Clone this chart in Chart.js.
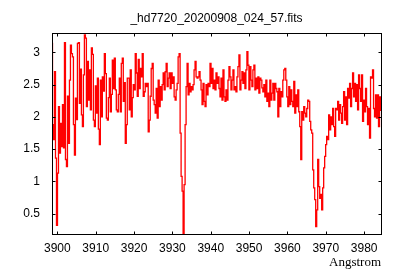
<!DOCTYPE html>
<html>
<head>
<meta charset="utf-8">
<script src="https://cdn.jsdelivr.net/npm/chart.js@4/dist/chart.umd.min.js"></script>
<style>
  html, body { margin: 0; padding: 0; background: #fff; }
  #wrap { width: 400px; height: 280px; }
</style>
</head>
<body>
<div id="wrap"><canvas id="spec" width="400" height="280"></canvas></div>
<script>
// 스펙트럼 제목 / 축 라벨
const TITLE = '_hd7720_20200908_024_57.fits';
const X_LABEL = 'Angstrom';

// 파장 격자 (FITS 헤더처럼 시작값 + 간격)
const WAVE_START = 3898.6;
const WAVE_STEP = 0.26;
const X_MIN = 3898.6, X_MAX = 3984.4;
const Y_MIN = 0.186, Y_MAX = 3.30;
const X_TICK_STEP = 10;
const Y_TICK_STEP = 0.5;

// 플럭스 값
const flux = [
  3.14,1.88,1.65,2.70,1.36,0.32,1.13,2.16,1.44,1.90,
  1.54,2.19,1.52,3.15,1.34,1.23,2.32,1.59,2.57,3.11,
  2.98,2.93,1.88,1.41,2.29,1.96,3.14,3.15,2.21,2.74,
  2.03,1.85,2.65,3.27,3.22,2.16,2.86,2.26,2.73,2.11,
  3.07,2.97,1.95,1.85,2.48,2.06,2.60,1.81,1.57,2.57,
  2.00,2.62,2.40,2.98,2.67,1.98,1.95,2.30,2.60,2.08,
  2.35,2.88,2.44,2.91,2.42,2.11,2.08,2.35,2.60,2.08,
  2.83,2.91,2.24,2.53,1.59,1.88,2.60,2.60,2.11,2.73,
  2.00,2.30,2.50,2.42,2.98,2.68,2.32,2.89,2.44,2.75,
  2.62,2.98,2.32,2.39,2.52,2.47,2.52,1.77,1.95,2.32,
  2.75,2.83,2.26,2.19,2.06,2.44,1.98,2.57,2.16,2.47,
  2.26,2.50,2.68,2.42,2.70,2.83,2.47,2.60,2.68,2.44,
  2.68,2.52,2.62,2.31,2.26,2.42,2.52,2.93,2.98,1.75,
  1.08,0.85,0.10,0.95,1.88,2.47,2.83,2.34,2.52,2.39,
  2.47,2.42,2.50,2.73,2.86,2.62,2.60,2.62,2.70,2.57,
  2.42,2.19,2.52,2.24,2.16,2.50,2.34,2.52,2.47,2.83,
  2.52,2.75,2.44,2.57,2.42,2.68,2.52,2.62,2.44,2.31,
  2.60,2.26,2.73,2.31,2.24,2.42,2.26,2.57,2.78,2.62,
  2.42,2.57,2.73,2.42,2.47,2.39,2.62,2.78,2.96,2.42,
  2.57,2.70,2.52,2.68,2.44,2.73,3.01,2.80,2.42,2.78,
  2.57,2.47,2.73,2.80,2.42,2.60,2.44,2.62,2.37,2.60,
  2.57,2.45,2.39,2.50,2.31,2.57,2.24,2.37,2.16,2.57,
  2.26,2.37,2.52,2.26,2.52,2.44,2.39,2.00,2.44,2.16,
  2.39,2.31,2.57,2.73,2.75,2.57,2.31,2.16,2.47,2.19,
  2.42,2.24,2.16,2.55,2.06,2.34,2.16,2.42,2.08,1.85,
  1.34,2.08,1.95,2.16,2.06,2.00,2.13,2.26,2.24,1.93,
  1.80,1.75,1.18,0.90,0.72,0.30,0.56,1.34,0.92,0.74,
  0.80,0.56,0.90,1.21,1.39,1.57,1.70,1.65,2.03,1.80,
  2.00,1.88,2.13,1.85,1.70,2.13,2.11,2.24,1.95,2.19,
  2.06,1.90,2.16,2.39,1.95,2.31,1.88,2.44,2.29,2.52,
  2.16,2.44,2.68,2.31,2.52,2.24,2.50,2.11,2.65,2.44,
  2.24,2.65,1.93,2.26,2.08,2.44,2.16,1.88,2.13,1.67,
  2.62,2.60,2.73,2.13,2.00,2.34,1.98,2.34,1.85,2.31,2.10
];

const points = flux.map((f, i) => ({ x: WAVE_START + i * WAVE_STEP, y: f }));

const TICK_LEN = 3;
const sansFont = { family: "'Liberation Sans', Arial, sans-serif", size: 12 };

// 테두리 + 안쪽 눈금 (gnuplot 스타일)
const frameTicks = {
    id: 'frameTicks',
    afterDatasetsDraw(chart) {
        const { ctx, chartArea: a, scales: { x, y } } = chart;
        const L = Math.round(a.left) + 0.5, R = Math.round(a.right) + 0.5;
        const T = Math.round(a.top) + 0.5, B = Math.round(a.bottom) + 0.5;
        ctx.save();
        ctx.strokeStyle = '#000';
        ctx.lineWidth = 1;
        ctx.beginPath();
        x.ticks.forEach(t => {
            const px = Math.round(x.getPixelForValue(t.value)) + 0.5;
            ctx.moveTo(px, B); ctx.lineTo(px, B - TICK_LEN);
            ctx.moveTo(px, T); ctx.lineTo(px, T + TICK_LEN);
        });
        y.ticks.forEach(t => {
            const py = Math.round(y.getPixelForValue(t.value)) + 0.5;
            ctx.moveTo(L, py); ctx.lineTo(L + TICK_LEN, py);
            ctx.moveTo(R, py); ctx.lineTo(R - TICK_LEN, py);
        });
        ctx.stroke();
        ctx.strokeRect(L, T, R - L, B - T);
        ctx.restore();
    }
};

const ctx = document.getElementById('spec').getContext('2d');
new Chart(ctx, {
    type: 'line',
    data: {
        datasets: [{
            data: points,
            borderColor: '#ff0000',
            borderWidth: 1.3,
            pointRadius: 0,
            stepped: 'middle',
            fill: false
        }]
    },
    options: {
        responsive: false,
        animation: false,
        devicePixelRatio: 1,
        layout: { padding: { left: 0, right: 19, top: 0, bottom: 0 } },
        plugins: {
            legend: { display: false },
            tooltip: { enabled: false },
            title: {
                display: true,
                text: TITLE,
                color: '#000',
                fullSize: false,
                font: { ...sansFont, weight: 'normal' },
                padding: { top: 11, bottom: 7.6 }
            }
        },
        scales: {
            x: {
                type: 'linear',
                min: X_MIN,
                max: X_MAX,
                afterFit(s) { s.height = 46; },
                grid: { display: false, drawTicks: false },
                border: { display: false },
                ticks: {
                    stepSize: X_TICK_STEP,
                    includeBounds: false,
                    padding: 7,
                    color: '#000',
                    font: sansFont,
                    maxRotation: 0,
                    callback: v => String(v)
                },
                title: {
                    display: true,
                    text: X_LABEL,
                    align: 'end',
                    color: '#000',
                    font: { family: "'Liberation Serif', 'Times New Roman', serif", size: 13 },
                    padding: { top: 0, bottom: 10 }
                }
            },
            y: {
                type: 'linear',
                min: Y_MIN,
                max: Y_MAX,
                afterFit(s) { s.width = 52; },
                grid: { display: false, drawTicks: false },
                border: { display: false },
                ticks: {
                    stepSize: Y_TICK_STEP,
                    includeBounds: false,
                    padding: 12,
                    color: '#000',
                    font: sansFont,
                    callback: v => String(v)
                }
            }
        }
    },
    plugins: [frameTicks]
});
</script>
</body>
</html>
